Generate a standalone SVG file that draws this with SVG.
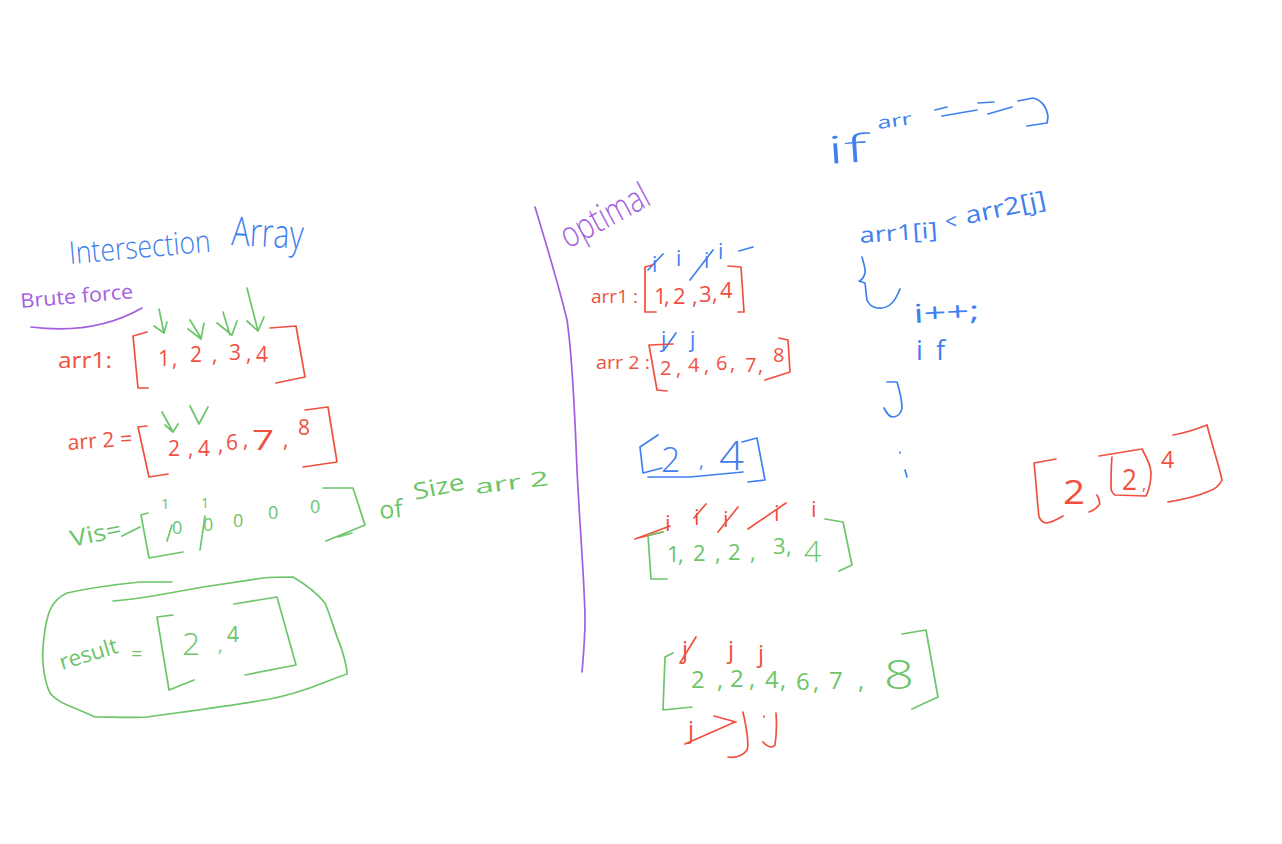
<svg xmlns="http://www.w3.org/2000/svg" width="1282" height="844" viewBox="0 0 1282 844">
<style>
path{fill:none;stroke-width:1.7;stroke-linecap:round;stroke-linejoin:round}
text{font-family:"Open Sans","Liberation Sans",sans-serif;font-weight:400}
.big{font-weight:300}
.r path,path.r{stroke:#f0503f}.g path,path.g{stroke:#6cc568}.b path,path.b{stroke:#3f80ee}.p path,path.p{stroke:#a45ee0}
.r text{fill:#f0503f}.g text{fill:#6cc568}.b text{fill:#3f80ee}.p text{fill:#a45ee0}
</style>
<rect width="1282" height="844" fill="#ffffff"/>

<g id="title" class="b">
<text class="big" x="70" y="264" font-size="31" textLength="142" lengthAdjust="spacingAndGlyphs" transform="rotate(-5 70 264)">Intersection</text>
<text class="big" x="231" y="245" font-size="40" textLength="72" lengthAdjust="spacingAndGlyphs" transform="rotate(3 231 245)">Array</text>
</g>
<g id="brute-force" class="p">
<text x="21" y="308" font-size="20" textLength="113" lengthAdjust="spacingAndGlyphs" transform="rotate(-5 21 308)">Brute force</text>
<path d="M31 327Q95 335 142 308" stroke-width="2.2"/>
</g>
<g id="brute-arr1">
<g class="g">
<path d="M159 309L164 333M154 326L164 333L167 322M190 320L201 338M188 329L201 339L204 323M223 312L230 335M217 323L232 335L237 321M247 288L258 331M247 321L258 331L264 317"/>
</g>
<g class="r">
<text x="58" y="368" font-size="21" textLength="54" lengthAdjust="spacingAndGlyphs">arr1:</text>
<path d="M147 332L133 336L138 388L148 388M270 328L296 326L305 377L276 383"/>
<text x="158 172 190 212 229 246 256" y="366 366 362 362 360 361 362" font-size="21">1,2,3,4</text>
</g>
</g>
<g id="brute-arr2">
<g class="g"><path d="M162 412L173 432M165 425L173 432L178 424M190 406L199 424L208 407"/></g>
<g class="r">
<text x="68" y="450" font-size="21" textLength="65" lengthAdjust="spacingAndGlyphs" transform="rotate(-4 68 450)">arr 2 =</text>
<path d="M147 426L138 427L149 477L168 474M305 410L328 407L337 462L303 467"/>
<text x="168 188 198 218 226 243" y="456 456 456 452 450 447" font-size="21">2,4,6,</text>
<text x="252" y="450" font-size="28" textLength="22" lengthAdjust="spacingAndGlyphs">7</text>
<text x="283 298" y="447 435" font-size="21">,8</text>
</g>
</g>
<g id="vis" class="g">
<text x="72" y="547" font-size="23" textLength="52" lengthAdjust="spacingAndGlyphs" transform="rotate(-12 72 547)">Vis=</text>
<path d="M122 536L140 527M148 513L141 515L149 558L183 552M323 488L353 488L365 525L326 541"/>
<path d="M338 537L352 533" stroke-width="3"/>
<text x="161" y="509" font-size="15">1</text>
<text x="201" y="508" font-size="14">1</text>
<text x="172 203 233 268 310" y="534 531 527 519 513" font-size="18">00000</text>
<path d="M167 541L172 525M205 516L200 550"/>
<text x="380" y="519" font-size="25" transform="rotate(-5 380 519)">of</text>
<text x="415" y="500" font-size="23" textLength="52" lengthAdjust="spacingAndGlyphs" transform="rotate(-12 415 500)">Size</text>
<text x="476" y="494" font-size="20" textLength="74" lengthAdjust="spacingAndGlyphs" transform="rotate(-7 476 494)">arr 2</text>
</g>
<g id="result" class="g">
<path d="M172 582L140 582C110 585 85 589 67 593C58 597 53 603 50 610C46 620 45 628 44 637C43 646 42 655 43 663C44 675 46 685 50 693C54 698 60 702 67 705C77 709 86 713 95 717C112 717 130 718 147 717C190 711 230 706 270 699C290 695 308 689 323 683C331 680 338 677 347 674C347 665 344 658 342 650C335 633 331 617 325 603C316 592 305 584 293 577C283 577 273 577 263 578C243 581 223 584 203 587C186 590 170 593 153 596C140 598 126 600 113 601"/>
<text x="62" y="670" font-size="22" textLength="60" lengthAdjust="spacingAndGlyphs" transform="rotate(-17 62 670)">result</text>
<text x="131" y="661" font-size="20">=</text>
<path d="M173 615L157 617L169 690L194 680M234 604L277 597L296 665L245 675"/>
<text x="182" y="655" font-size="32" class="big">2</text>
<text x="218" y="652" font-size="18">,</text>
<text x="227" y="642" font-size="21">4</text>
</g>
<path id="divider" class="p" stroke-width="2.2" d="M535 207C545 240 560 290 567 320C573 360 575 420 577 470C580 530 585 590 585 620C585 640 583 660 582 672"/>
<g id="optimal" class="p"><text class="big" x="568" y="249" font-size="36" textLength="96" lengthAdjust="spacingAndGlyphs" transform="rotate(-28 568 249)">optimal</text></g>
<g id="opt-arr1">
<g class="b">
<text x="652 676 704 718" y="272 266 268 259" font-size="21">iiii</text>
<path d="M648 270L663 254M690 280L713 250M739 251L753 247"/>
</g>
<g class="r">
<text x="591" y="303" font-size="19" textLength="47" lengthAdjust="spacingAndGlyphs">arr1 :</text>
<path d="M652 265L645 267L645 312L656 312M728 266L741 267L744 312L738 312"/>
<text x="654 664 673 692 699 712 720" y="304 304 304 304 302 301 298" font-size="22">1,2,3,4</text>
</g>
</g>
<g id="opt-arr2">
<g class="b">
<text x="661 690" y="347 347" font-size="21">jj</text>
<path d="M676 333L664 350"/>
</g>
<g class="r">
<text x="596" y="369" font-size="18" textLength="54" lengthAdjust="spacingAndGlyphs">arr 2 :</text>
<path d="M673 344L649 345L657 390L667 391M779 338L788 340L790 372L765 380"/>
<text x="660 676 688 704 716 730 745 758 773" y="375 375 372 372 370 370 372 372 362" font-size="20">2,4,6,7,8</text>
</g>
</g>
<g id="blue-result" class="b">
<path d="M658 435L640 447L643 473L662 468M742 442L757 438L765 480L748 482M648 477L690 477L743 472"/>
<text class="big" x="661" y="472" font-size="34">2</text>
<text x="699" y="468" font-size="18">,</text>
<text class="big" x="719" y="470" font-size="40" textLength="25" lengthAdjust="spacingAndGlyphs">4</text>
<path d="M900 452L900 453M905 470L907 477"/>
</g>
<g id="merge-arr1">
<g class="r">
<text x="665 694 723 774 811" y="531 525 527 521 517" font-size="22">iiiii</text>
<path d="M635 539L670 526M638 538L663 532M694 518L706 504M718 532L738 507M748 529L786 503"/>
</g>
<g class="g">
<path d="M663 532L648 535L651 579L667 579M825 519L843 522L852 565L839 571"/>
<text x="667 678 693 715 728 750 773 786" y="562 562 561 561 560 560 554 554" font-size="22">1,2,2,3,</text>
<text x="804" y="562" font-size="30" class="big">4</text>
</g>
</g>
<g id="merge-arr2">
<g class="r">
<text x="682 728 758" y="658 658 662" font-size="24">jjj</text>
<path d="M680 663L696 637"/>
<text x="688" y="738" font-size="24">j</text>
<path d="M685 744L735 722M714 716L736 722M743 712C747 730 749 745 747 750C742 757 733 758 728 757M776 713C777 725 776 738 775 745C772 749 766 746 763 742M764 716L764 717"/>
</g>
<g class="g">
<path d="M673 653L665 657L663 710L692 707M902 634L926 630L938 697L912 709"/>
<text x="691 717 730 749 765 780 796 813 829 858" y="688 688 687 687 688 688 690 690 689 689" font-size="24">2,2,4,6,7,</text>
<text class="big" x="884" y="689" font-size="40" textLength="30" lengthAdjust="spacingAndGlyphs">8</text>
</g>
</g>
<g id="code" class="b">
<text class="big" x="828" y="164" font-size="38" textLength="40" lengthAdjust="spacingAndGlyphs" transform="rotate(-4 828 164)">if</text>
<text x="878" y="129" font-size="17" textLength="35" lengthAdjust="spacingAndGlyphs" transform="rotate(-8 878 129)">arr</text>
<path d="M935 110L947 107M942 116L977 110M978 103L994 102M988 114L1012 107M1018 101L1033 98C1042 100 1047 108 1048 117L1047 123L1027 126"/>
<text x="860" y="243" font-size="22" textLength="78" lengthAdjust="spacingAndGlyphs" transform="rotate(-4 860 243)">arr1[i]</text>
<text x="945" y="229" font-size="21">&lt;</text>
<text x="967" y="224" font-size="24" textLength="82" lengthAdjust="spacingAndGlyphs" transform="rotate(-12 967 224)">arr2[j]</text>
<path d="M862 257C864 265 866 270 865 273C864 277 862 280 859 281L865 283C866 290 866 295 867 300C869 305 872 307 877 308C884 309 889 306 892 303C896 299 898 294 900 289"/>
<text x="914" y="323" font-size="26" textLength="66" lengthAdjust="spacingAndGlyphs" transform="rotate(-3 914 323)">i++;</text>
<text x="916 936" y="360" font-size="27">if</text>
<path d="M887 382L897 382C900 392 902 400 902 408C901 414 897 417 893 417C889 417 886 412 884 408"/>
</g>
<g id="red-array" class="r">
<path d="M1056 459L1034 463C1036 480 1037 500 1039 517C1041 521 1044 523 1047 523C1053 522 1058 519 1063 516M1097 495C1100 500 1100 505 1099 505C1096 509 1092 511 1089 512M1099 456L1142 449C1147 458 1151 466 1151 473C1151 482 1149 490 1146 496L1115 495C1112 493 1111 490 1111 487C1111 476 1111 466 1112 457M1173 435C1185 433 1197 429 1207 425C1212 445 1218 462 1222 480C1219 487 1213 490 1207 492C1195 497 1180 500 1168 502"/>
<text x="1063" y="504" font-size="32" textLength="22" lengthAdjust="spacingAndGlyphs">2</text>
<text x="1122" y="490" font-size="30" textLength="15" lengthAdjust="spacingAndGlyphs">2</text>
<text x="1142" y="490" font-size="16">,</text>
<text x="1161" y="468" font-size="23">4</text>
</g>
</svg>
